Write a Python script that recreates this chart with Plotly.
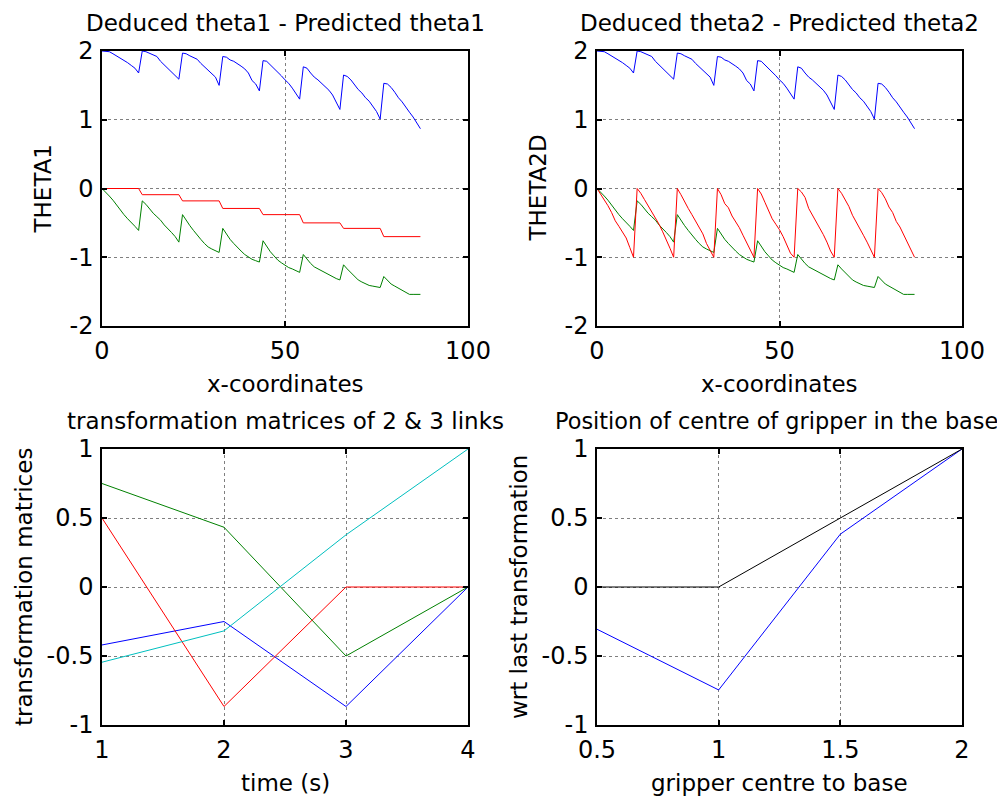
# -*- coding: utf-8 -*-
"""Deduced vs predicted joint angles, link transforms and gripper position
(four MATLAB-style panels redrawn with plotly)
"""
import plotly.graph_objects as go

# ---------------- data ----------------
# top panels: sample index along the path
x_coord = list(range(88))

theta_deduced = [
    2.00, 2.00, 1.99, 1.96, 1.93, 1.90, 1.87, 1.83, 1.79, 1.75, 1.68,
    2.00, 1.99, 1.97, 1.94, 1.92, 1.85, 1.80, 1.75, 1.70, 1.65, 1.59,
    1.97, 1.96, 1.93, 1.91, 1.88, 1.82, 1.77, 1.73, 1.68, 1.62, 1.50,
    1.92, 1.91, 1.87, 1.85, 1.82, 1.78, 1.74, 1.68, 1.57, 1.52, 1.42,
    1.86, 1.85, 1.80, 1.74, 1.70, 1.64, 1.58, 1.53, 1.46, 1.38, 1.30,
    1.77, 1.75, 1.68, 1.62, 1.58, 1.53, 1.48, 1.43, 1.36, 1.25, 1.15,
    1.65, 1.63, 1.58, 1.51, 1.44, 1.39, 1.32, 1.27, 1.20, 1.12, 1.01,
    1.53, 1.52, 1.47, 1.40, 1.32, 1.26, 1.18, 1.11, 1.04, 0.96, 0.87,
]

theta_diff = [
    0.00, -0.05, -0.11, -0.17, -0.24, -0.32, -0.38, -0.44, -0.49, -0.55, -0.61,
    -0.18, -0.23, -0.30, -0.36, -0.41, -0.46, -0.53, -0.58, -0.64, -0.70, -0.78,
    -0.38, -0.47, -0.54, -0.61, -0.68, -0.74, -0.80, -0.85, -0.88, -0.91, -0.93,
    -0.58, -0.66, -0.74, -0.80, -0.86, -0.91, -0.96, -1.00, -1.03, -1.05, -1.07,
    -0.76, -0.84, -0.92, -0.98, -1.04, -1.08, -1.12, -1.15, -1.17, -1.20, -1.22,
    -0.96, -1.03, -1.09, -1.14, -1.17, -1.20, -1.23, -1.26, -1.29, -1.31, -1.33,
    -1.11, -1.17, -1.22, -1.28, -1.33, -1.36, -1.39, -1.41, -1.42, -1.43, -1.44,
    -1.28, -1.34, -1.39, -1.42, -1.45, -1.48, -1.51, -1.54, -1.54, -1.54, -1.54,
]

theta1_predicted = [
    0.00, 0.00, 0.00, 0.00, 0.00, 0.00, 0.00, 0.00, 0.00, 0.00, 0.00,
    -0.09, -0.09, -0.09, -0.09, -0.09, -0.09, -0.09, -0.09, -0.09, -0.09, -0.09,
    -0.18, -0.18, -0.18, -0.18, -0.18, -0.18, -0.18, -0.18, -0.18, -0.18, -0.18,
    -0.29, -0.29, -0.29, -0.29, -0.29, -0.29, -0.29, -0.29, -0.29, -0.29, -0.29,
    -0.38, -0.38, -0.38, -0.38, -0.38, -0.38, -0.38, -0.38, -0.38, -0.38, -0.38,
    -0.50, -0.50, -0.50, -0.50, -0.50, -0.50, -0.50, -0.50, -0.50, -0.50, -0.50,
    -0.58, -0.58, -0.58, -0.58, -0.58, -0.58, -0.58, -0.58, -0.58, -0.58, -0.58,
    -0.70, -0.70, -0.70, -0.70, -0.70, -0.70, -0.70, -0.70, -0.70, -0.70, -0.70,
]

theta2_predicted = [
    0.00, -0.08, -0.16, -0.25, -0.35, -0.47, -0.55, -0.63, -0.72, -0.86, -1.00,
    0.00, -0.07, -0.16, -0.25, -0.33, -0.43, -0.52, -0.63, -0.74, -0.87, -1.00,
    0.00, -0.09, -0.20, -0.29, -0.38, -0.47, -0.56, -0.66, -0.80, -0.90, -1.00,
    0.00, -0.09, -0.22, -0.28, -0.40, -0.48, -0.57, -0.68, -0.79, -0.91, -1.00,
    0.00, -0.08, -0.20, -0.32, -0.44, -0.52, -0.60, -0.70, -0.82, -0.94, -1.00,
    0.00, -0.05, -0.13, -0.29, -0.38, -0.48, -0.57, -0.67, -0.78, -0.91, -1.00,
    0.00, -0.07, -0.16, -0.26, -0.39, -0.48, -0.58, -0.68, -0.78, -0.88, -1.00,
    0.00, -0.06, -0.15, -0.27, -0.35, -0.48, -0.56, -0.67, -0.78, -0.89, -1.00,
]

# bottom left: transformation matrix entries over time
time_s = [1, 2, 3, 4]
tm_blue = [-0.42, -0.25, -0.866, 0.0]
tm_green = [0.75, 0.433, -0.5, 0.0]
tm_red = [0.5, -0.866, 0.0, 0.0]
tm_cyan = [-0.545, -0.318, 0.378, 1.0]

# bottom right: gripper centre position
gripper_x = [0.5, 1.0, 1.5, 2.0]
gripper_blue = [-0.306, -0.746, 0.383, 1.0]
gripper_black = [0.0, 0.0, 0.5, 1.0]

# tick labels (plain hyphen minus like the original)
theta_ticks = [-2, -1, 0, 1, 2]
theta_tick_text = ['-2', '-1', '0', '1', '2']
xcoord_ticks = [0, 50, 100]
xcoord_tick_text = ['0', '50', '100']
unit_ticks = [-1, -0.5, 0, 0.5, 1]
unit_tick_text = ['-1', '-0.5', '0', '0.5', '1']
time_ticks = [1, 2, 3, 4]
time_tick_text = ['1', '2', '3', '4']
grip_ticks = [0.5, 1, 1.5, 2]
grip_tick_text = ['0.5', '1', '1.5', '2']

# ---------------- styling ----------------
# the page body keeps its 8px margin, so the figure is 8px smaller and
# every pixel position below is measured from the window corner
OFF = 8
W, H = 1005 - OFF, 796 - OFF
FONT = 'DejaVu Sans, Arial, sans-serif'
FS = 23       # titles / labels
FS_TICK = 24  # tick labels
BLUE, GREEN, RED, CYAN, BLACK = '#0000ff', '#008000', '#ff0000', '#00bfbf', '#000000'

# axes boxes in window pixels: (left, right, top, bottom)
boxes = [
    (102, 468, 51, 326),
    (597, 962, 51, 326),
    (102, 468, 449, 725),
    (597, 962, 449, 725),
]


def px_x(p):
    return (p - OFF) / W


def px_y(p):
    return 1 - (p - OFF) / H


def axis_style(rng, ticks, text, domain, standoff):
    return dict(
        range=rng, domain=domain, automargin=False,
        tickmode='array', tickvals=ticks, ticktext=text,
        ticks='inside', ticklen=5, tickwidth=1.5, tickcolor='black',
        showline=True, linecolor='black', linewidth=1.5, mirror='ticks',
        showgrid=True, gridcolor='#7f7f7f', griddash='dot', gridwidth=1,
        zeroline=False, ticklabelstandoff=standoff,
        tickfont=dict(family=FONT, size=FS_TICK, color='black'),
    )


fig = go.Figure()


def add_line(x, y, color, idx):
    suffix = '' if idx == 1 else str(idx)
    fig.add_trace(go.Scatter(
        x=x, y=y, mode='lines',
        line=dict(color=color, width=1),
        xaxis='x' + suffix, yaxis='y' + suffix,
        cliponaxis=False, hoverinfo='x+y'
    ))


# panel 1
add_line(x_coord, theta_deduced, BLUE, 1)
add_line(x_coord, theta_diff, GREEN, 1)
add_line(x_coord, theta1_predicted, RED, 1)
# panel 2
add_line(x_coord, theta_deduced, BLUE, 2)
add_line(x_coord, theta_diff, GREEN, 2)
add_line(x_coord, theta2_predicted, RED, 2)
# panel 3
add_line(time_s, tm_blue, BLUE, 3)
add_line(time_s, tm_green, GREEN, 3)
add_line(time_s, tm_red, RED, 3)
add_line(time_s, tm_cyan, CYAN, 3)
# panel 4
add_line(gripper_x, gripper_blue, BLUE, 4)
add_line(gripper_x, gripper_black, BLACK, 4)

axes_cfg = [
    ([0, 100], xcoord_ticks, xcoord_tick_text, [-2, 2], theta_ticks, theta_tick_text),
    ([0, 100], xcoord_ticks, xcoord_tick_text, [-2, 2], theta_ticks, theta_tick_text),
    ([1, 4], time_ticks, time_tick_text, [-1, 1], unit_ticks, unit_tick_text),
    ([0.5, 2], grip_ticks, grip_tick_text, [-1, 1], unit_ticks, unit_tick_text),
]

layout = {}
for i, (box, cfg) in enumerate(zip(boxes, axes_cfg), start=1):
    l, r, t, b = box
    suffix = '' if i == 1 else str(i)
    xa = axis_style(cfg[0], cfg[1], cfg[2], [px_x(l), px_x(r)], 2)
    xa['anchor'] = 'y' + suffix
    ya = axis_style(cfg[3], cfg[4], cfg[5], [px_y(b), px_y(t)], 2)
    ya['anchor'] = 'x' + suffix
    layout['xaxis' + suffix] = xa
    layout['yaxis' + suffix] = ya

# titles and axis labels as annotations placed like the original
titles = ['Deduced theta1 - Predicted theta1', 'Deduced theta2 - Predicted theta2',
          'transformation matrices of 2 & 3 links', 'Position of centre of gripper in the base']
title_x = [285, 779.5, 285, 776]  # last one sits flush with the right edge
title_fs = [23, 23, 23, 22.4]
xlabels = ['x-coordinates', 'x-coordinates', 'time (s)', 'gripper centre to base']
ylabels = ['THETA1', 'THETA2D', 'transformation matrices', 'wrt last transformation']
ylabel_x = [42, 537, 24, 519]

annotations = []
for i, box in enumerate(boxes):
    l, r, t, b = box
    cx = (l + r) / 2
    annotations.append(dict(
        text=titles[i], x=px_x(title_x[i]), y=px_y(t - 28), xref='paper', yref='paper',
        xanchor='center', yanchor='middle', showarrow=False,
        font=dict(family=FONT, size=title_fs[i], color='black')))
    annotations.append(dict(
        text=xlabels[i], x=px_x(cx), y=px_y(b + 58), xref='paper', yref='paper',
        xanchor='center', yanchor='middle', showarrow=False,
        font=dict(family=FONT, size=FS, color='black')))
    annotations.append(dict(
        text=ylabels[i], x=px_x(ylabel_x[i]), y=px_y((t + b) / 2), xref='paper', yref='paper',
        xanchor='center', yanchor='middle', showarrow=False, textangle=-90,
        font=dict(family=FONT, size=FS, color='black')))

fig.update_layout(
    width=W, height=H,
    margin=dict(l=0, r=0, t=0, b=0, pad=0, autoexpand=False),
    paper_bgcolor='white', plot_bgcolor='white',
    showlegend=False,
    annotations=annotations,
    **layout
)

fig.write_html("out.html")
